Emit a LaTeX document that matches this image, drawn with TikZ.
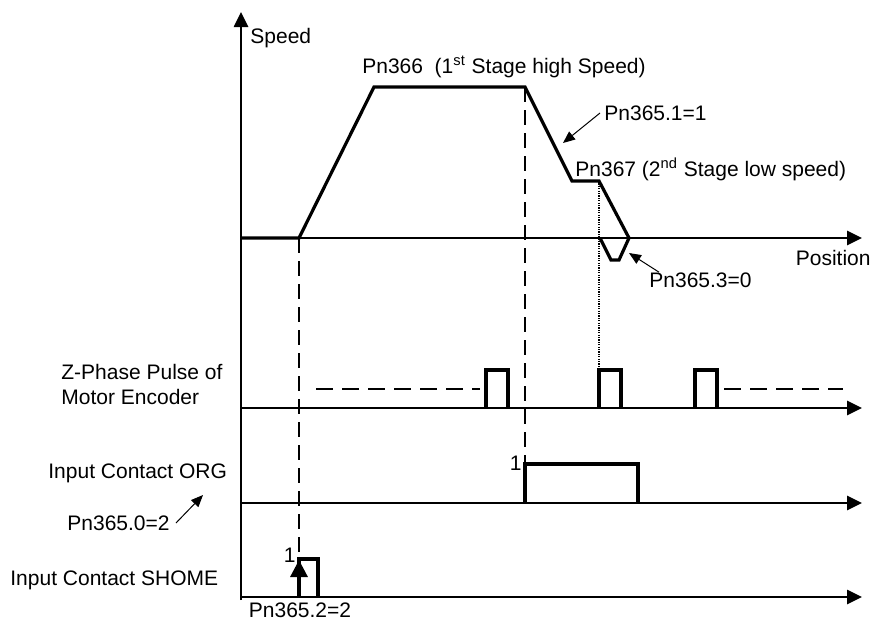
\documentclass[tikz,border=0pt]{standalone}
\usepackage{fontspec}
\setmainfont{Liberation Sans}
\usetikzlibrary{arrows.meta}
\begin{document}
\begin{tikzpicture}[x=0.5pt,y=-0.5pt,
    font=\fontsize{10.5}{12.5}\selectfont,
    axis/.style={line width=1.3pt,-{Triangle[length=7.5pt,width=7pt]}},
    wave/.style={line width=1.6pt},
    guide/.style={line width=1.3pt,dash pattern=on 7.5pt off 4pt},
    idle/.style={line width=0.7pt,dash pattern=on 8.5pt off 4.5pt},
    pointer/.style={line width=0.5pt,-{Triangle[length=6pt,width=5pt]}},
    lbl/.style={inner sep=0pt}]
                \useasboundingbox (0,0) rectangle (872,621);
                % axes
                \draw[axis] (241,600) -- (241,12);
                \draw[axis] (241,238) -- (862,238);
                \draw[axis] (241,408) -- (862,408);
                \draw[axis] (241,503) -- (862,503);
                \draw[axis] (241,597) -- (862,597);
                % guide lines
                \draw[guide] (299,238) -- (299,559);
                \draw[guide] (525,87) -- (525,464);
                \draw[line width=1pt,dash pattern=on 0.6pt off 0.6pt] (599,181) -- (599,370);
                % speed profile
                \begin{scope}[shift={(0,238)}]
                    \draw[wave] (241,0)--(299,0)--(374,-151)--(525,-151)--(572,-57)--
                        (599,-57)--(629,0)--(619,22)--(611,22)--(600,0);
                    \node[lbl,anchor=west] (speed) at (250,-200) {Speed};
                    \node[lbl,anchor=east] (position) at (871,20) {Position};
                    \node[lbl] (high) at (504,-171) {Pn366\ \ (1\textsuperscript{st} Stage high Speed)};
                    \node[lbl,anchor=west] (low) at (575,-69) {Pn367 (2\textsuperscript{nd} Stage low speed)};
                    \node[lbl,anchor=west] (decel) at (604,-125) {Pn365.1=1};
                    \node[lbl,anchor=west] (reverse) at (649,42) {Pn365.3=0};
                    \coordinate (decelTip) at (563,-95);
                    \coordinate (reverseTip) at (629,15);
                    \draw[pointer] ([xshift=-2pt]decel.west) -- (decelTip);
                    \draw[pointer] ([xshift=5pt]reverse.north west) -- (reverseTip);
                \end{scope}
                % Z-phase pulses
                \begin{scope}[shift={(0,408)}]
                    \foreach \x in {486,599,695}
                        \draw[wave] (\x,0) -- ++(0,-38) -- ++(22,0) -- ++(0,38);
                    \draw[idle] (316,-19) -- (480,-19);
                    \draw[idle] (724,-19) -- (843,-19);
                    \node[lbl,anchor=west,align=left] (zphase) at (61,-24) {Z-Phase Pulse of\\Motor Encoder};
                \end{scope}
                % ORG
                \begin{scope}[shift={(0,503)}]
                    \draw[wave] (525,0) -- (525,-39) -- (638,-39) -- (638,0);
                    \node[lbl,anchor=east] (orgOne) at (522,-40) {1};
                    \node[lbl,anchor=west] (org) at (48,-30) {Input Contact ORG};
                    \node[lbl,anchor=west] (orgPn) at (67,20) {Pn365.0=2};
                    \coordinate (orgTip) at (203,-8);
                    \draw[pointer] ([xshift=3pt]orgPn.east) -- (orgTip);
                \end{scope}
                % SHOME
                \begin{scope}[shift={(0,597)}]
                    \draw[wave] (299,0) -- (299,-38) -- (318,-38) -- (318,0);
                    \coordinate (homeBase) at (299,0);
                    \coordinate (homeTop) at (299,-37);
                    \draw[line width=1.6pt,-{Triangle[length=8.5pt,width=8.5pt]}] (homeBase) -- (homeTop);
                    \node[lbl,anchor=east] (homeOne) at (296,-42) {1};
                    \node[lbl,anchor=west] (shome) at (10,-17) {Input Contact SHOME};
                    \node[lbl] (homePn) at (300,13) {Pn365.2=2};
                \end{scope}
            \end{tikzpicture}
\end{document}
